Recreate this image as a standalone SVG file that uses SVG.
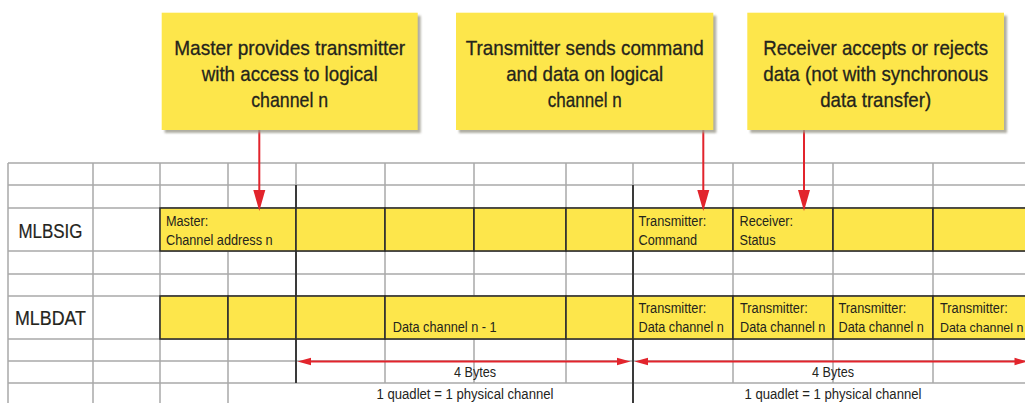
<svg xmlns="http://www.w3.org/2000/svg" width="1025" height="403" viewBox="0 0 1025 403">
<style>
.g{stroke:#a9a9a9;stroke-width:1.5;fill:none}
.d{stroke:#3a3a3a;stroke-width:2;fill:none}
.y{fill:#fde64b;stroke:#2e2e2e;stroke-width:1.6}
.t{font-family:"Liberation Sans",Arial,sans-serif;fill:#24241c}
.s{font-size:14px}
.c{font-size:21px;text-anchor:middle;stroke:#24241c;stroke-width:0.3}
.r{font-size:20px;text-anchor:middle;stroke:#24241c;stroke-width:0.2}
.m{font-size:14px;text-anchor:middle}
.red{stroke:#e2242c;stroke-width:2;fill:none}
.rh{fill:#e2242c}
.box{fill:#fde64b}
.sh{fill:#9c9a8c;opacity:0.8}
</style>
<defs>
<filter id="blur" x="-5%" y="-5%" width="110%" height="110%"><feGaussianBlur stdDeviation="1.2"/></filter>
</defs>
<g id="grid">
<path class="g" d="M8,163H1025M8,185H1025M8,208H1025M8,251H1025M8,274H1025M8,296H1025M8,339H1025M8,361H1025M8,383H1025"/>
<path class="g" d="M8,163V403M93,163V403M160,163V403M228,163V403M385,163V383M474,163V383M566,163V383M733,163V383M833,163V383M933,163V383M296,163V185M633,163V185"/>
<path class="d" d="M296,185V383M633,185V403"/>
</g>
<g id="mlbsig">
<rect class="y" x="160" y="208" width="136" height="43"/>
<rect class="y" x="296" y="208" width="89" height="43"/>
<rect class="y" x="385" y="208" width="89" height="43"/>
<rect class="y" x="474" y="208" width="92" height="43"/>
<rect class="y" x="566" y="208" width="67" height="43"/>
<rect class="y" x="633" y="208" width="100" height="43"/>
<rect class="y" x="733" y="208" width="100" height="43"/>
<rect class="y" x="833" y="208" width="100" height="43"/>
<rect class="y" x="933" y="208" width="100" height="43"/>
<text class="t r" x="50.5" y="237.5" textLength="64" lengthAdjust="spacingAndGlyphs">MLBSIG</text>
<text class="t s" x="166" y="226" textLength="42.3" lengthAdjust="spacingAndGlyphs">Master:</text>
<text class="t s" x="166" y="244.5" textLength="106.6" lengthAdjust="spacingAndGlyphs">Channel address n</text>
<text class="t s" x="638.5" y="226" textLength="67.7" lengthAdjust="spacingAndGlyphs">Transmitter:</text>
<text class="t s" x="638.5" y="244.5" textLength="58.6" lengthAdjust="spacingAndGlyphs">Command</text>
<text class="t s" x="739.5" y="226" textLength="53.6" lengthAdjust="spacingAndGlyphs">Receiver:</text>
<text class="t s" x="739.5" y="244.5" textLength="36" lengthAdjust="spacingAndGlyphs">Status</text>
</g>
<g id="mlbdat">
<rect class="y" x="160" y="296" width="68" height="43"/>
<rect class="y" x="228" y="296" width="68" height="43"/>
<rect class="y" x="296" y="296" width="89" height="43"/>
<rect class="y" x="385" y="296" width="181" height="43"/>
<rect class="y" x="566" y="296" width="67" height="43"/>
<rect class="y" x="633" y="296" width="100" height="43"/>
<rect class="y" x="733" y="296" width="100" height="43"/>
<rect class="y" x="833" y="296" width="100" height="43"/>
<rect class="y" x="933" y="296" width="100" height="43"/>
<text class="t r" x="50.5" y="325" textLength="71" lengthAdjust="spacingAndGlyphs">MLBDAT</text>
<text class="t s" x="392.7" y="331.7" textLength="104" lengthAdjust="spacingAndGlyphs">Data channel n - 1</text>
<text class="t s" x="638.5" y="313.3" textLength="67.7" lengthAdjust="spacingAndGlyphs">Transmitter:</text>
<text class="t s" x="638.5" y="331.7" textLength="85.4" lengthAdjust="spacingAndGlyphs">Data channel n</text>
<text class="t s" x="740" y="313.3" textLength="67.7" lengthAdjust="spacingAndGlyphs">Transmitter:</text>
<text class="t s" x="740" y="331.7" textLength="85.4" lengthAdjust="spacingAndGlyphs">Data channel n</text>
<text class="t s" x="838.5" y="313.3" textLength="67.7" lengthAdjust="spacingAndGlyphs">Transmitter:</text>
<text class="t s" x="838.5" y="331.7" textLength="85.4" lengthAdjust="spacingAndGlyphs">Data channel n</text>
<text class="t s" x="940" y="313.3" textLength="67.7" lengthAdjust="spacingAndGlyphs">Transmitter:</text>
<text class="t" x="940" y="331.7" font-size="12.4">Data channel n</text>
</g>
<g id="measures">
<text class="t m" x="475" y="377" textLength="42" lengthAdjust="spacingAndGlyphs">4 Bytes</text>
<text class="t m" x="465" y="398.5" textLength="177" lengthAdjust="spacingAndGlyphs">1 quadlet = 1 physical channel</text>
<text class="t m" x="833" y="377" textLength="42" lengthAdjust="spacingAndGlyphs">4 Bytes</text>
<text class="t m" x="833" y="398.5" textLength="177" lengthAdjust="spacingAndGlyphs">1 quadlet = 1 physical channel</text>
</g>
<g id="connectors">
<path class="red" d="M259.3,130V192M703.3,130V192M804,130V192"/>
<polygon class="rh" points="253.3,190 265.3,190 259.3,211"/>
<polygon class="rh" points="697.3,190 709.3,190 703.3,211"/>
<polygon class="rh" points="798,190 810,190 804,211"/>
<path class="red" d="M305,361.5H624M641,361.5H1020"/>
<polygon class="rh" points="297.5,361.5 311,357.8 311,365.2"/>
<polygon class="rh" points="630.5,361.5 617,357.8 617,365.2"/>
<polygon class="rh" points="634.5,361.5 648,357.8 648,365.2"/>
<polygon class="rh" points="1028,361.5 1014.5,357.8 1014.5,365.2"/>
</g>
<g id="callout1">
<rect class="sh" x="164.7" y="15.7" width="256" height="117.3" filter="url(#blur)"/>
<rect class="box" x="161.7" y="12.7" width="256" height="117.3"/>
<text class="t c" x="289.7" y="54.5" textLength="231" lengthAdjust="spacingAndGlyphs">Master provides transmitter</text>
<text class="t c" x="289.7" y="80.5" textLength="176" lengthAdjust="spacingAndGlyphs">with access to logical</text>
<text class="t c" x="289.7" y="106.5" textLength="77" lengthAdjust="spacingAndGlyphs">channel n</text>
</g>
<g id="callout2">
<rect class="sh" x="459" y="15.7" width="257.3" height="117.3" filter="url(#blur)"/>
<rect class="box" x="456" y="12.7" width="257.3" height="117.3"/>
<text class="t c" x="584.7" y="54.5" textLength="238" lengthAdjust="spacingAndGlyphs">Transmitter sends command</text>
<text class="t c" x="584.7" y="80.5" textLength="157" lengthAdjust="spacingAndGlyphs">and data on logical</text>
<text class="t c" x="584.7" y="106.5" textLength="74" lengthAdjust="spacingAndGlyphs">channel n</text>
</g>
<g id="callout3">
<rect class="sh" x="750.3" y="15.7" width="256.7" height="117.3" filter="url(#blur)"/>
<rect class="box" x="747.3" y="12.7" width="256.7" height="117.3"/>
<text class="t c" x="875.7" y="54.5" textLength="225" lengthAdjust="spacingAndGlyphs">Receiver accepts or rejects</text>
<text class="t c" x="875.7" y="80.5" textLength="225" lengthAdjust="spacingAndGlyphs">data (not with synchronous</text>
<text class="t c" x="875.7" y="106.5" textLength="111" lengthAdjust="spacingAndGlyphs">data transfer)</text>
</g>
</svg>
